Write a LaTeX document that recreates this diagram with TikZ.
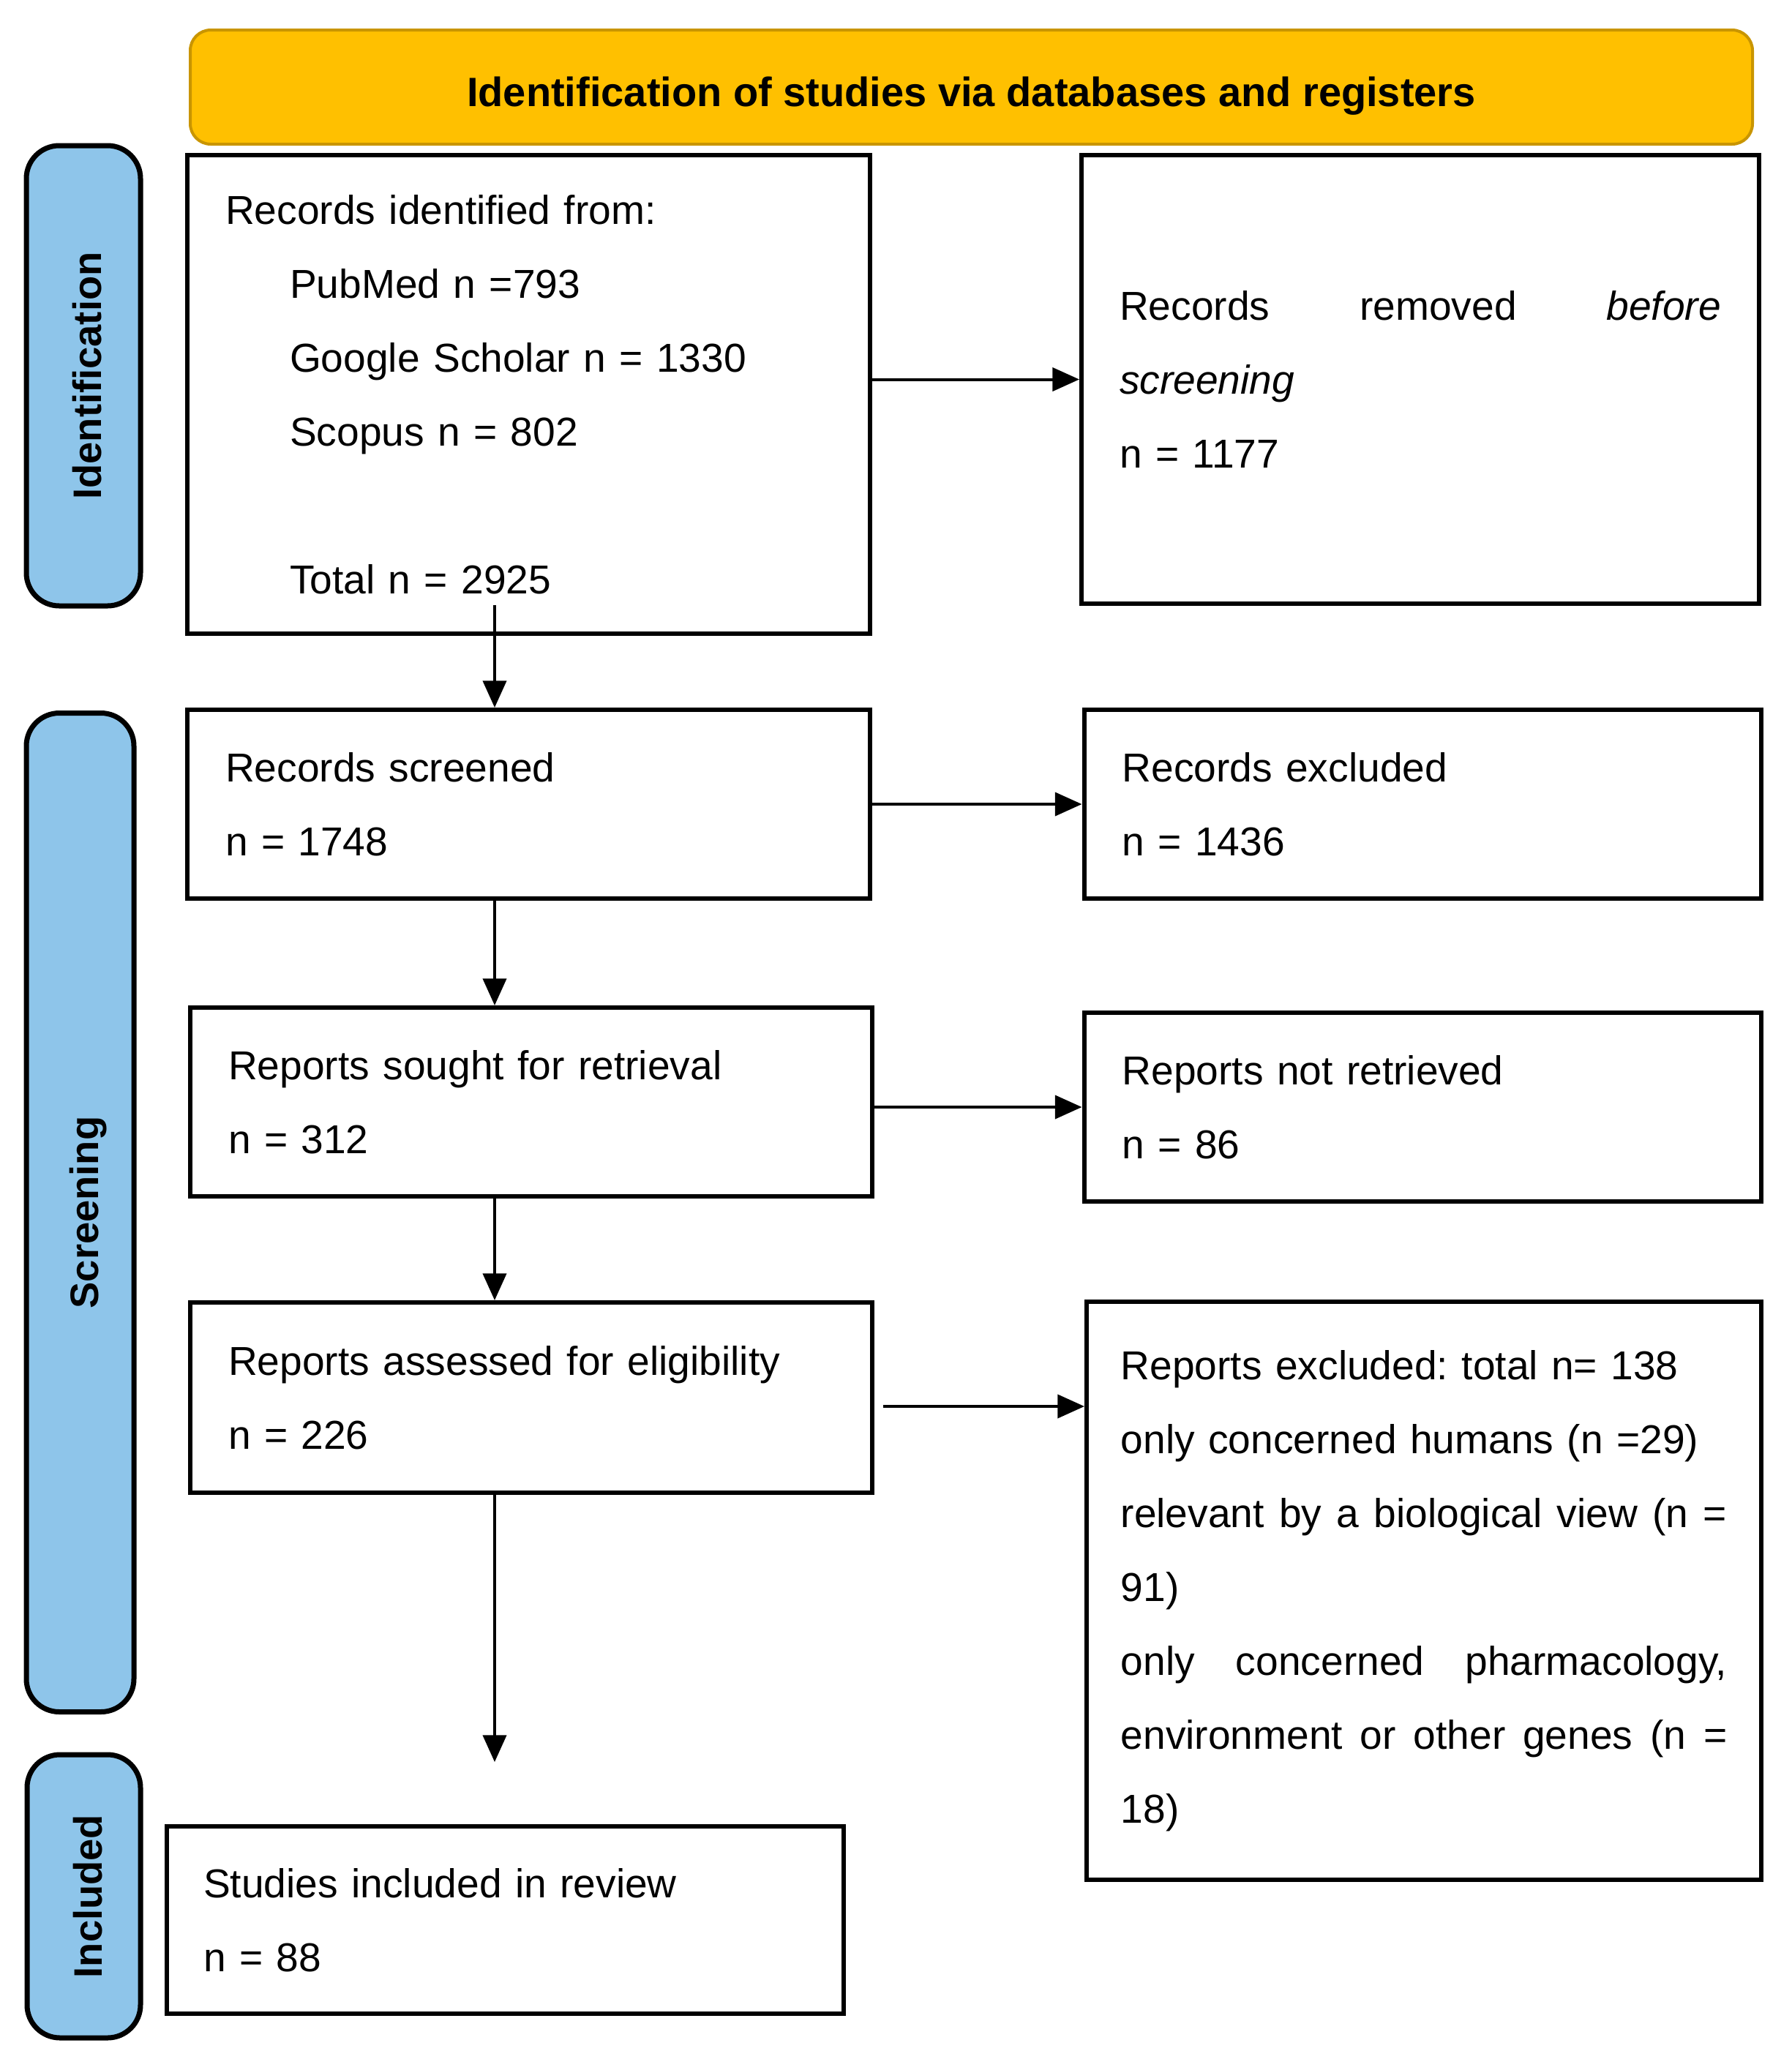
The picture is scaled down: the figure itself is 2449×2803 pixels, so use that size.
\documentclass[tikz,border=0pt]{standalone}
\usepackage{fontspec}
\setmainfont{Liberation Sans}
\usetikzlibrary{arrows.meta}
\definecolor{bannerfill}{HTML}{FFC000}
\definecolor{bannerline}{HTML}{C99500}
\definecolor{sidefill}{HTML}{8EC5EA}
\begin{document}
\frenchspacing
\begin{tikzpicture}[x=0.3pt,y=-0.3pt,
  box/.style={draw=black, line width=1.8pt, fill=white, inner xsep=15.6pt, inner ysep=0pt,
    align=left, font=\fontsize{16.55}{30.3}\selectfont\frenchspacing, anchor=center},
  banner/.style={draw=bannerline, line width=1.2pt, fill=bannerfill, rounded corners=8.4pt,
    font=\bfseries\fontsize{16.8}{20}\selectfont, minimum width=640.5pt, minimum height=46.8pt},
  side/.style={draw=black, line width=2.1pt, fill=sidefill, rounded corners=13.5pt, rotate=90,
    font=\bfseries\fontsize{16.3}{20}\selectfont, inner sep=0pt},
  arr/.style={line width=1.2pt, -{Triangle[length=11pt,width=9.6pt]}}
]
\useasboundingbox (0,0) rectangle (2449,2803);

% banner
\node[banner] (ban) at (1327.5,119) {\raisebox{-7.9pt}[0pt][0pt]{Identification of studies via databases and registers}};

% side labels
\node[side, minimum width=188.7pt, minimum height=46.8pt] (sid) at (114,513.5) {\raisebox{-7.4pt}[0pt][0pt]{Identification}};
\node[side, minimum width=409.5pt, minimum height=44.1pt] (sscr) at (109.5,1657) {\raisebox{-7.4pt}[0pt][0pt]{Screening}};
\node[side, minimum width=116.1pt, minimum height=46.5pt] (sinc) at (114.5,2591.5) {\raisebox{-7.4pt}[0pt][0pt]{Included}};

% boxes
\node[box, text width=248.7pt, minimum width=279.9pt, minimum height=196.2pt] (b1) at (722.5,539)
  {Records identified from:\\
   \hspace*{26.4pt}PubMed n =793\\
   \hspace*{26.4pt}Google Scholar n = 1330\\
   \hspace*{26.4pt}Scopus n = 802\\[30.3pt]
   \hspace*{26.4pt}Total n = 2925};
\node[box, text width=246.6pt, minimum width=277.8pt, minimum height=183.9pt] (b2) at (1941,518.5)
  {Records\hfill removed\hfill \textit{before}\\
   \textit{screening}\\
   n = 1177};
\node[box, text width=248.7pt, minimum width=279.9pt, minimum height=77.4pt] (b3) at (722.5,1099)
  {Records screened\\ n = 1748};
\node[box, text width=246.3pt, minimum width=277.5pt, minimum height=77.4pt] (b4) at (1944,1099)
  {Records excluded\\ n = 1436};
\node[box, text width=248.4pt, minimum width=279.6pt, minimum height=77.4pt] (b5) at (726,1506)
  {Reports sought for retrieval\\ n = 312};
\node[box, text width=246.3pt, minimum width=277.5pt, minimum height=77.4pt] (b6) at (1944,1513)
  {Reports not retrieved\\ n = 86};
\node[box, text width=248.4pt, minimum width=279.6pt, minimum height=78pt] (b7) at (726,1910)
  {Reports assessed for eligibility\\ n = 226};
\node[box, inner xsep=14pt, text width=248.6pt, minimum width=276.6pt, minimum height=237pt] (b8) at (1946,2174)
  {Reports excluded: total n= 138\\
   only concerned humans (n =29)\\
   relevant\hfill by\hfill a\hfill biological\hfill view\hfill (n\hfill =\\
   91)\\
   only\hfill concerned\hfill pharmacology,\\
   environment\hfill or\hfill other\hfill genes\hfill (n\hfill =\\
   18)};
\node[box, inner xsep=15pt, text width=247.5pt, minimum width=277.5pt, minimum height=76.8pt] (b9) at (690.5,2624)
  {Studies included in review\\ n = 88};

% connectors
\coordinate (spine) at (676,0);
\coordinate (a1s) at (676,827);
\coordinate (h4) at (0,1922);
\coordinate (endpt) at (676,2408);

\draw[arr] (b1.east |- b2.west) -- (b2.west);
\draw[arr] (a1s) -- (spine |- b3.north);
\draw[arr] (b3.east |- b4.west) -- (b4.west);
\draw[arr] (spine |- b3.south) -- (spine |- b5.north);
\draw[arr] (b5.east |- b6.west) -- (b6.west);
\draw[arr] (spine |- b5.south) -- (spine |- b7.north);
\draw[arr, shorten <=3.6pt] (b7.east |- h4) -- (b8.west |- h4);
\draw[arr] (spine |- b7.south) -- (endpt);
\end{tikzpicture}
\end{document}
